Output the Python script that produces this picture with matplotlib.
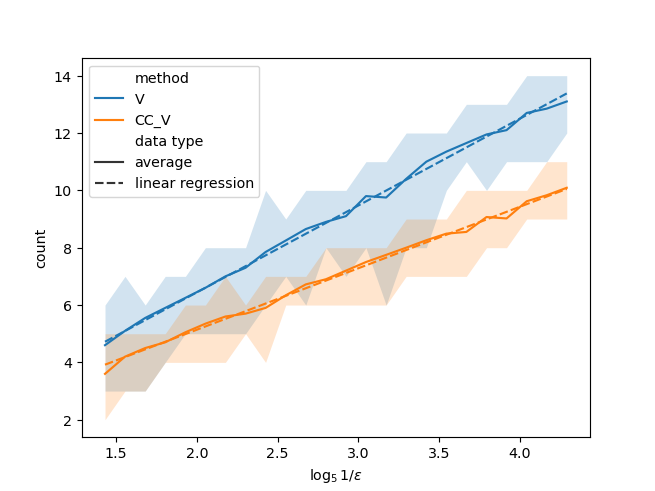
import matplotlib
matplotlib.use("Agg")
import matplotlib.pyplot as plt
from matplotlib.lines import Line2D

# x positions: log5(1/eps)
x = [1.431, 1.555, 1.680, 1.804, 1.929, 2.053, 2.177, 2.302, 2.426, 2.551,
     2.675, 2.800, 2.924, 3.048, 3.173, 3.297, 3.422, 3.546, 3.670, 3.795,
     3.919, 4.044, 4.168, 4.292]

# method V
V_avg = [4.6, 5.1, 5.55, 5.9, 6.25, 6.6, 7.0, 7.3, 7.85, 8.25, 8.65, 8.9,
         9.1, 9.8, 9.75, 10.4, 11.0, 11.35, 11.65, 11.95, 12.1, 12.7, 12.85, 13.1]
V_min = [3, 3, 3, 4, 5, 5, 5, 5, 6, 7, 6, 8, 7, 8, 6, 8, 8, 10, 11, 10, 11, 11, 11, 12]
V_max = [6, 7, 6, 7, 7, 8, 8, 8, 10, 9, 10, 10, 10, 11, 11, 12, 12, 12, 13, 13, 13, 14, 14, 14]
V_reg = [4.72, 13.38]   # regression line at first and last x

# method CC_V
CC_avg = [3.6, 4.2, 4.5, 4.7, 5.05, 5.35, 5.6, 5.7, 5.9, 6.34, 6.72, 6.9,
          7.2, 7.5, 7.75, 8.0, 8.26, 8.49, 8.55, 9.07, 9.02, 9.62, 9.83, 10.09]
CC_min = [2, 3, 3, 4, 4, 4, 4, 5, 4, 6, 6, 6, 6, 6, 6, 7, 7, 7, 7, 8, 8, 9, 9, 9]
CC_max = [5, 5, 5, 5, 6, 6, 7, 6, 7, 7, 7, 8, 8, 8, 8, 9, 9, 9, 10, 10, 10, 10, 11, 11]
CC_reg = [3.92, 10.05]

methods = ["V", "CC_V"]
colors = ["#1f77b4", "#ff7f0e"]
series = [(V_avg, V_min, V_max, V_reg), (CC_avg, CC_min, CC_max, CC_reg)]

fig, ax = plt.subplots(figsize=(6.4, 4.8), dpi=102.4)

for (avg, lo, hi, reg), c in zip(series, colors):
    ax.fill_between(x, lo, hi, color=c, alpha=0.2, linewidth=0)
    ax.plot(x, avg, color=c, lw=1.5)
    ax.plot([x[0], x[-1]], reg, color=c, lw=1.5, dashes=(4, 1.5))

ax.set_xlabel(r"$\log_5 1/\varepsilon$")
ax.set_ylabel("count")
ax.set_yticks([2, 4, 6, 8, 10, 12, 14])

blank = Line2D([], [], linestyle="none")
handles = [blank,
           Line2D([], [], color=colors[0], lw=1.5),
           Line2D([], [], color=colors[1], lw=1.5),
           blank,
           Line2D([], [], color=".2", lw=1.5),
           Line2D([], [], color=".2", lw=1.5, dashes=(4, 1.5))]
labels = ["method", methods[0], methods[1], "data type", "average", "linear regression"]
ax.legend(handles, labels, loc="upper left")

fig.savefig("out.png", dpi=102.4)
